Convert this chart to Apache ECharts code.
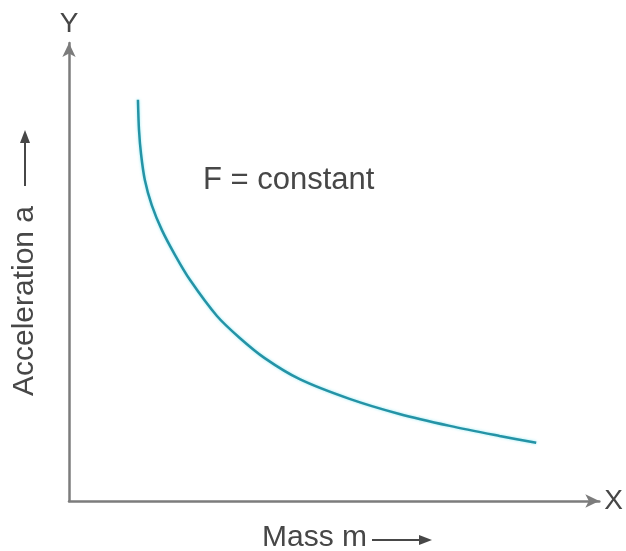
<!DOCTYPE html>
<html>
<head>
<meta charset="utf-8">
<script src="https://cdn.jsdelivr.net/npm/echarts@6/dist/echarts.min.js"></script>
<style>
  html, body { margin: 0; padding: 0; background: #fff; }
  #chart { width: 626px; height: 551px; }
</style>
</head>
<body>
<div id="chart"></div>
<script>
// values (axis units 0..10)
const massValues = [1.30, 1.32, 1.36, 1.43, 1.56, 1.75, 2.00, 2.28, 2.79, 3.22, 3.69, 4.35, 5.29, 6.23, 7.18, 8.12, 8.81];
const accelValues = [8.76, 8.10, 7.56, 7.01, 6.46, 5.92, 5.37, 4.83, 4.04, 3.56, 3.12, 2.66, 2.23, 1.90, 1.64, 1.42, 1.27];

const axisColor = '#7c7c7c';
const textColor = '#474747';
const font = 'Liberation Sans, Arial, sans-serif';

const chart = echarts.init(document.getElementById('chart'), null, { renderer: 'canvas' });

const axisStyle = {
  show: true,
  symbol: ['none', 'arrow'],
  symbolSize: [10, 14],
  lineStyle: { color: axisColor, width: 2.5 }
};

chart.setOption({
  animation: false,
  backgroundColor: '#fff',
  grid: { left: 69, right: 26, top: 43, bottom: 50 },
  xAxis: {
    type: 'value',
    min: 0,
    max: 10,
    name: 'X',
    nameLocation: 'end',
    nameGap: 5,
    nameTextStyle: { color: textColor, fontSize: 28, fontFamily: font, verticalAlign: 'middle' },
    axisLine: axisStyle,
    axisTick: { show: false },
    axisLabel: { show: false },
    splitLine: { show: false }
  },
  yAxis: {
    type: 'value',
    min: 0,
    max: 10,
    name: 'Y',
    nameLocation: 'end',
    nameGap: 5,
    nameTextStyle: { color: textColor, fontSize: 28, fontFamily: font, align: 'center' },
    axisLine: axisStyle,
    axisTick: { show: false },
    axisLabel: { show: false },
    splitLine: { show: false }
  },
  series: [{
    type: 'line',
    data: massValues.map((m, i) => [m, accelValues[i]]),
    smooth: 0.3,
    showSymbol: false,
    lineStyle: {
      color: '#2493a6',
      width: 2.5,
      shadowColor: 'rgba(80,220,235,0.6)',
      shadowBlur: 3
    }
  }],
  graphic: [
    {
      type: 'text',
      x: 203, y: 180,
      style: { text: 'F = constant', fill: textColor, font: '31px ' + font, verticalAlign: 'middle' }
    },
    {
      type: 'text',
      x: 262, y: 538,
      style: { text: 'Mass m', fill: textColor, font: '30px ' + font, verticalAlign: 'middle' }
    },
    {
      type: 'line',
      shape: { x1: 372, y1: 540, x2: 422, y2: 540 },
      style: { stroke: textColor, lineWidth: 2 }
    },
    {
      type: 'polygon',
      shape: { points: [[419, 535], [432, 540], [419, 545]] },
      style: { fill: textColor }
    },
    {
      type: 'text',
      x: 25, y: 301,
      rotation: Math.PI / 2,
      style: { text: 'Acceleration a', fill: textColor, font: '30px ' + font, align: 'center', verticalAlign: 'middle' }
    },
    {
      type: 'line',
      shape: { x1: 25, y1: 186, x2: 25, y2: 141 },
      style: { stroke: textColor, lineWidth: 2 }
    },
    {
      type: 'polygon',
      shape: { points: [[20, 143], [25, 130], [30, 143]] },
      style: { fill: textColor }
    }
  ]
});
</script>
</body>
</html>
